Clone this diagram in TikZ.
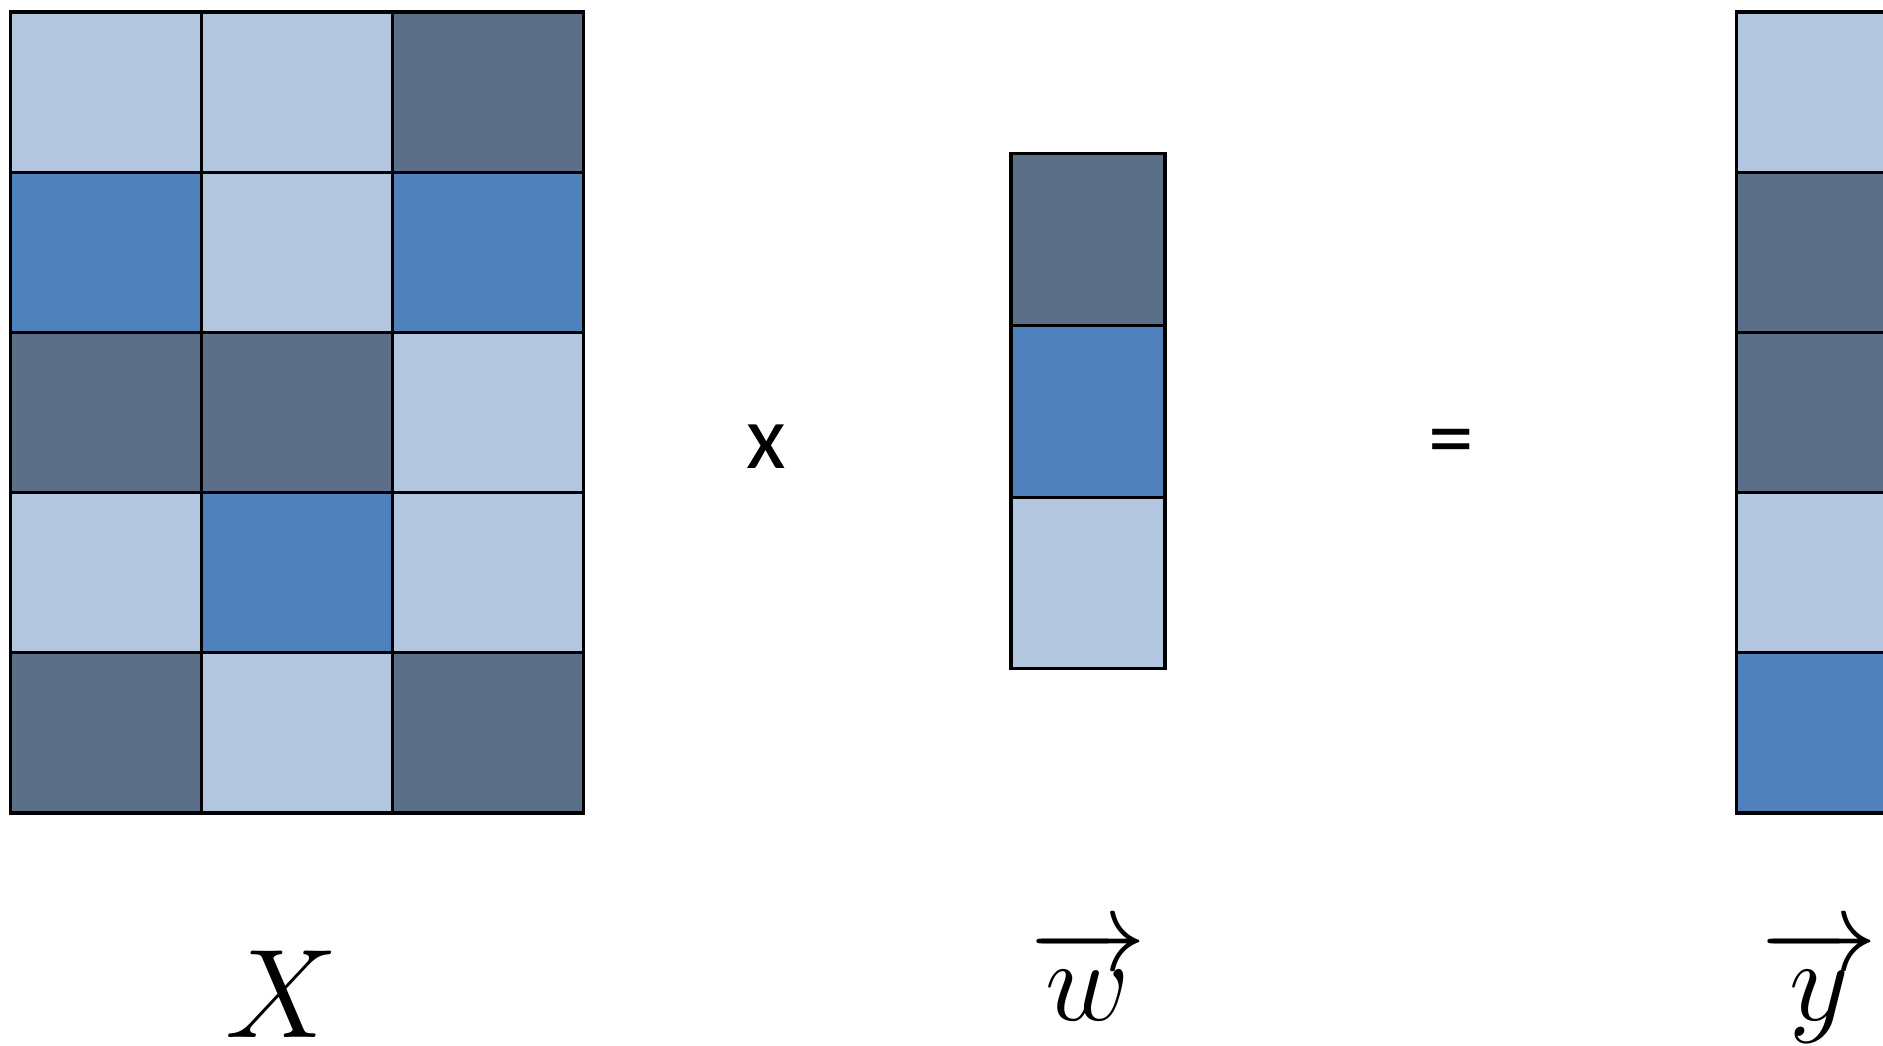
\RequirePackage{fix-cm}
\documentclass[tikz,border=0pt]{standalone}
\usepackage{fontspec}
\usepackage{amsmath}
\usepackage{tikz}
\usetikzlibrary{positioning}
\newfontfamily\opfont{Carlito}
\definecolor{mxLight}{HTML}{B3C6E0}
\definecolor{mxMid}{HTML}{4F81BD}
\definecolor{mxDark}{HTML}{5B6F88}

\begin{document}
\begin{tikzpicture}[
  cell/.style={draw=black, rectangle, inner sep=0pt, line width=0.9pt,
               minimum width=1.91cm, minimum height=1.602cm},
  wcell/.style={cell, minimum width=1.54cm, minimum height=1.717cm},
  ycell/.style={cell, minimum width=1.60cm},
  light/.style={fill=mxLight},
  mid/.style={fill=mxMid},
  dark/.style={fill=mxDark},
  op/.style={font=\opfont\fontsize{26}{30}\selectfont, inner sep=0pt},
  lab/.style={font=\fontsize{36}{40}\selectfont, inner sep=0pt, anchor=base},
  veclab/.style={lab, font=\fontsize{33}{38}\selectfont}
]
  \clip (0,0) rectangle (18.83,-10.45);
  \useasboundingbox (0,0) rectangle (18.83,-10.45);

  % matrix X
  \node[cell,light] (x11) at (1.063,-0.921) {};
  \node[cell,light] (x12) at (2.972,-0.921) {};
  \node[cell,dark]  (x13) at (4.882,-0.921) {};
  \node[cell,mid]   (x21) at (1.063,-2.523) {};
  \node[cell,light] (x22) at (2.972,-2.523) {};
  \node[cell,mid]   (x23) at (4.882,-2.523) {};
  \node[cell,dark]  (x31) at (1.063,-4.125) {};
  \node[cell,dark]  (x32) at (2.972,-4.125) {};
  \node[cell,light] (x33) at (4.882,-4.125) {};
  \node[cell,light] (x41) at (1.063,-5.727) {};
  \node[cell,mid]   (x42) at (2.972,-5.727) {};
  \node[cell,light] (x43) at (4.882,-5.727) {};
  \node[cell,dark]  (x51) at (1.063,-7.329) {};
  \node[cell,light] (x52) at (2.972,-7.329) {};
  \node[cell,dark]  (x53) at (4.882,-7.329) {};

  % vector w
  \node[wcell,dark]  (w1) at (10.88,-2.396) {};
  \node[wcell,mid]   (w2) at (10.88,-4.113) {};
  \node[wcell,light] (w3) at (10.88,-5.830) {};

  % vector y
  \node[ycell,light] (y1) at (18.165,-0.921) {};
  \node[ycell,dark]  (y2) at (18.165,-2.523) {};
  \node[ycell,dark]  (y3) at (18.165,-4.125) {};
  \node[ycell,light] (y4) at (18.165,-5.727) {};
  \node[ycell,mid]   (y5) at (18.165,-7.329) {};

  \node[op] (times) at (7.66,-4.47) {x};
  \node[op] (eq) at (14.51,-4.49) {=};

  \node[lab] (labX) at (2.82,-10.37) {$X$};
  \node[veclab] (labw) at (10.88,-10.20) {$\overrightarrow{w}$};
  \node[veclab] (laby) at (18.19,-10.20) {$\overrightarrow{y}$};
\end{tikzpicture}
\end{document}
